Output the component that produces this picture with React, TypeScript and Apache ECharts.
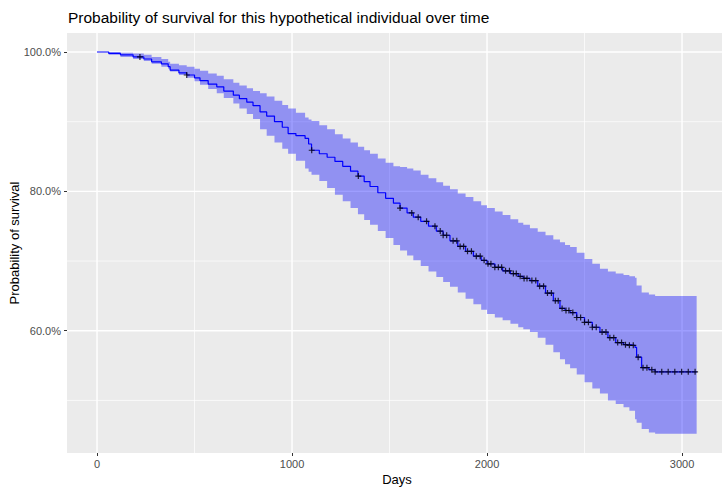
import React, { useEffect, useRef } from "react";
import * as echarts from "echarts";

// Kaplan-Meier step times (days) and estimates (%)
const times = [0, 60, 120, 185, 240, 280, 330, 365, 375, 420, 460, 500, 528, 570, 614, 650, 699, 730, 768, 800, 836, 870, 910, 950, 980, 1020, 1067, 1085, 1100, 1140, 1180, 1220, 1260, 1300, 1338, 1370, 1400, 1440, 1480, 1520, 1554, 1590, 1622, 1660, 1700, 1740, 1775, 1810, 1850, 1890, 1930, 1970, 2000, 2040, 2080, 2120, 2160, 2186, 2220, 2260, 2300, 2340, 2374, 2400, 2426, 2460, 2500, 2540, 2579, 2620, 2660, 2700, 2730, 2759, 2767, 2793, 2830, 2862, 3075];

const survival = [
  100.0, 99.8, 99.6, 99.3, 99.0, 98.6, 98.3, 97.9, 97.4, 97.0,
  96.7, 96.3, 95.9, 95.4, 95.0, 94.4, 93.8, 93.3, 92.8, 92.3,
  91.4, 90.8, 90.0, 89.2, 88.3, 88.0, 87.6, 86.8, 85.9, 85.4,
  84.9, 84.3, 83.6, 82.9, 82.2, 81.4, 80.7, 79.8, 79.0, 78.3,
  77.6, 76.9, 76.3, 75.7, 75.0, 74.3, 73.7, 72.9, 72.1, 71.4,
  70.7, 70.1, 69.6, 69.1, 68.6, 68.2, 67.8, 67.5, 67.2, 66.4,
  65.4, 64.3, 63.2, 62.9, 62.6, 61.9, 61.2, 60.5, 59.8, 59.0,
  58.3, 58.0, 57.9, 57.6, 56.2, 54.7, 54.4, 54.1, 54.1,
];

const upper = [
  100.0, 100.0, 99.9, 99.8, 99.6, 99.3, 99.0, 98.6, 98.3, 98.1,
  97.9, 97.6, 97.3, 96.9, 96.6, 96.1, 95.6, 95.2, 94.8, 94.4,
  94.1, 93.6, 93.0, 92.4, 91.9, 91.3, 90.6, 90.3, 90.1, 89.5,
  88.9, 88.2, 87.6, 87.0, 86.4, 85.9, 85.4, 84.7, 84.1, 83.6,
  83.5, 83.3, 83.0, 82.4, 81.9, 81.3, 80.8, 80.3, 79.7, 79.2,
  78.6, 78.0, 77.6, 77.1, 76.6, 76.0, 75.5, 75.2, 74.7, 74.2,
  73.7, 73.1, 72.7, 72.3, 72.0, 71.2, 70.3, 69.6, 68.9, 68.5,
  68.2, 68.0, 67.8, 67.6, 66.5, 65.5, 65.2, 65.0, 65.0,
];

const lower = [
  100.0, 99.6, 99.3, 99.0, 98.7, 98.3, 97.9, 97.6, 97.2, 96.7,
  96.3, 95.8, 95.3, 94.7, 94.1, 93.4, 92.6, 91.9, 91.1, 90.4,
  88.9, 88.0, 87.0, 86.1, 85.4, 84.4, 83.3, 82.8, 82.4, 81.5,
  80.5, 79.5, 78.6, 77.6, 76.7, 75.9, 75.2, 74.3, 73.3, 72.3,
  71.5, 70.8, 70.1, 69.3, 68.5, 67.7, 67.0, 66.3, 65.5, 64.6,
  63.8, 63.0, 62.4, 61.9, 61.5, 61.0, 60.5, 60.2, 59.8, 59.0,
  58.0, 56.9, 55.9, 55.2, 54.6, 53.7, 52.6, 51.7, 51.0, 50.0,
  49.5, 49.0, 48.5, 47.3, 46.8, 45.9, 45.4, 45.2, 45.2,
];

// censoring times (days)
const censorTimes = [220, 460, 1101, 1340, 1554, 1614, 1647, 1690, 1733, 1760, 1775, 1793, 1826, 1845, 1862, 1880, 1900, 1920, 1945, 1965, 1985, 2005, 2020, 2040, 2058, 2075, 2095, 2115, 2135, 2150, 2170, 2190, 2205, 2230, 2250, 2270, 2290, 2310, 2330, 2350, 2365, 2385, 2405, 2420, 2440, 2460, 2480, 2500, 2520, 2540, 2560, 2590, 2610, 2630, 2650, 2670, 2690, 2710, 2730, 2750, 2775, 2800, 2820, 2845, 2862, 2896, 2929, 2963, 2998, 3032, 3067];

const xTicks = [0, 1000, 2000, 3000];
const xMinor = [500, 1500, 2500];
const yTicks = [60, 80, 100];
const yMinor = [50, 70, 90];

const X_MIN = -154;
const X_MAX = 3205;
const Y_MIN = 42.45;
const Y_MAX = 102.73;

function survivalAt(t: number): number {
  let v = survival[0];
  for (let i = 0; i < times.length; i++) {
    if (times[i] <= t) v = survival[i];
  }
  return v;
}

const FONT = "Liberation Sans, Arial, Helvetica, sans-serif";

export default function App() {
  const ref = useRef<HTMLDivElement>(null);
  useEffect(() => {
    const chart = echarts.init(ref.current as HTMLDivElement, null, { renderer: "svg" });

    const gridRender = (_p: any, api: any) => {
      const children: any[] = [];
      const vline = (t: number, w: number) => {
        const a = api.coord([t, Y_MIN]);
        const b = api.coord([t, Y_MAX]);
        children.push({ type: "line", shape: { x1: a[0], y1: a[1], x2: b[0], y2: b[1] }, style: { stroke: "#FFFFFF", lineWidth: w } });
      };
      const hline = (v: number, w: number) => {
        const a = api.coord([X_MIN, v]);
        const b = api.coord([X_MAX, v]);
        children.push({ type: "line", shape: { x1: a[0], y1: a[1], x2: b[0], y2: b[1] }, style: { stroke: "#FFFFFF", lineWidth: w } });
      };
      xMinor.forEach((t) => vline(t, 0.7));
      yMinor.forEach((v) => hline(v, 0.7));
      xTicks.forEach((t) => vline(t, 1.4));
      yTicks.forEach((v) => hline(v, 1.4));
      return { type: "group", children };
    };

    const bandRender = (_p: any, api: any) => {
      const pts: number[][] = [];
      const n = times.length;
      for (let i = 0; i < n; i++) {
        pts.push(api.coord([times[i], upper[i]]));
        if (i < n - 1) pts.push(api.coord([times[i + 1], upper[i]]));
      }
      for (let i = n - 1; i >= 0; i--) {
        if (i < n - 1) pts.push(api.coord([times[i + 1], lower[i]]));
        pts.push(api.coord([times[i], lower[i]]));
      }
      return { type: "polygon", shape: { points: pts }, style: { fill: "rgba(0,0,255,0.38)" } };
    };

    const plus = "path://M-0.2,-1L0.2,-1L0.2,-0.2L1,-0.2L1,0.2L0.2,0.2L0.2,1L-0.2,1L-0.2,0.2L-1,0.2L-1,-0.2L-0.2,-0.2Z";

    chart.setOption({
      animation: false,
      title: {
        text: "Probability of survival for this hypothetical individual over time",
        left: 63,
        top: 4,
        textStyle: { fontSize: 15.5, fontWeight: "normal", color: "#000", fontFamily: FONT },
      },
      grid: {
        left: 67,
        right: 0,
        top: 33,
        bottom: 34,
        show: true,
        backgroundColor: "#EBEBEB",
        borderWidth: 0,
      },
      xAxis: {
        type: "value",
        min: X_MIN,
        max: X_MAX,
        axisLine: { show: false, onZero: false },
        splitLine: { show: false },
        axisTick: { show: true, length: 3, lineStyle: { color: "#333333", width: 1 }, customValues: xTicks },
        axisLabel: {
          customValues: xTicks,
          color: "#4D4D4D",
          fontSize: 11,
          margin: 5,
          fontFamily: FONT,
          formatter: (v: number) => String(v),
        },
      },
      yAxis: {
        type: "value",
        min: Y_MIN,
        max: Y_MAX,
        axisLine: { show: false, onZero: false },
        splitLine: { show: false },
        axisTick: { show: true, length: 3, lineStyle: { color: "#333333", width: 1 }, customValues: yTicks },
        axisLabel: {
          customValues: yTicks,
          color: "#4D4D4D",
          fontSize: 11,
          margin: 6,
          fontFamily: FONT,
          formatter: (v: number) => v.toFixed(1) + "%",
        },
      },
      graphic: [
        {
          type: "text",
          x: 397,
          y: 479,
          style: { text: "Days", fontSize: 13, fill: "#000", fontFamily: FONT, textAlign: "center", textVerticalAlign: "middle" },
        },
        {
          type: "text",
          x: 14,
          y: 243,
          rotation: Math.PI / 2,
          style: { text: "Probability of survival", fontSize: 13, fill: "#000", fontFamily: FONT, textAlign: "center", textVerticalAlign: "middle" },
        },
      ],
      series: [
        { type: "custom", renderItem: gridRender, data: [[0, 50]], z: 0, silent: true },
        { type: "custom", renderItem: bandRender, data: [[0, 50]], z: 1, silent: true },
        {
          type: "line",
          step: "end",
          data: times.map((t, i) => [t, survival[i]]),
          showSymbol: false,
          symbol: "none",
          lineStyle: { color: "#0000FF", width: 1.2 },
          z: 2,
          silent: true,
        },
        {
          type: "scatter",
          data: censorTimes.map((t) => [t, survivalAt(t)]),
          symbol: plus,
          symbolSize: 6,
          itemStyle: { color: "#000000" },
          z: 3,
          silent: true,
        },
      ],
    });
    return () => chart.dispose();
  }, []);
  return <div ref={ref} style={{ position: "absolute", left: 0, top: 0, width: 722, height: 487 }} />;
}
